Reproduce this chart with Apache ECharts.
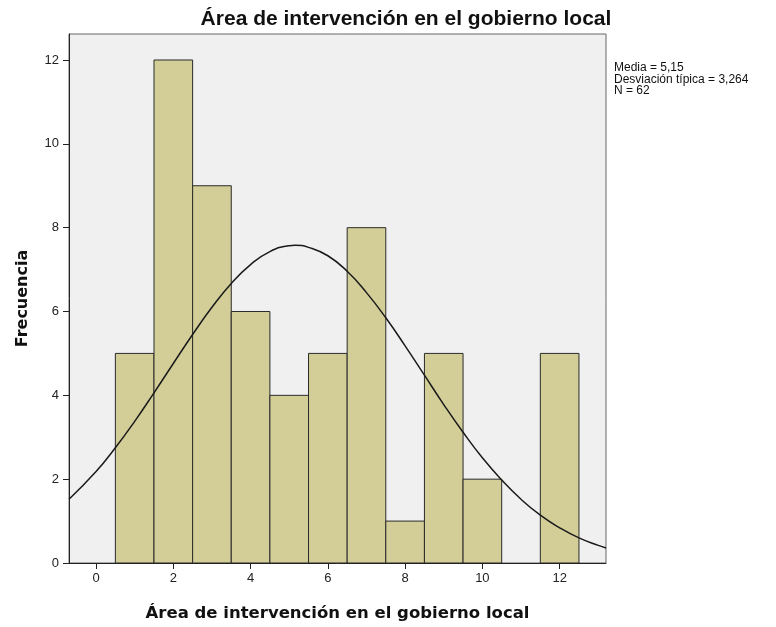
<!DOCTYPE html>
<html>
<head>
<meta charset="utf-8">
<script src="https://cdn.jsdelivr.net/npm/echarts@6/dist/echarts.min.js"></script>
<style>
  html, body { margin: 0; padding: 0; background: #fff; }
  #chart { width: 776px; height: 627px; }
</style>
</head>
<body>
<div id="chart"></div>
<script>
// histogram bins (centre of each bin) and counts
const binCenters = [1, 2, 3, 4, 5, 6, 7, 8, 9, 10, 11, 12];
const counts     = [5, 12, 9, 6, 4, 5, 8, 1, 5, 2, 0, 5];

// normal curve
const curveX = [-0.7, 0, 0.5, 1, 1.5, 2, 2.5, 3, 3.5, 4, 4.5, 5, 5.15, 5.5, 6, 6.5, 7, 7.5, 8, 8.5, 9, 9.5, 10, 10.5, 11, 11.5, 12, 12.5, 13, 13.2];
const curveY = [1.52, 2.18, 2.75, 3.38, 4.06, 4.76, 5.45, 6.10, 6.67, 7.12, 7.43, 7.57, 7.58, 7.53, 7.33, 6.96, 6.45, 5.85, 5.18, 4.48, 3.78, 3.12, 2.51, 1.98, 1.52, 1.14, 0.84, 0.60, 0.42, 0.36];

const xTicks = [0, 2, 4, 6, 8, 10, 12];
const yTicks = [0, 2, 4, 6, 8, 10, 12];

const statsLines = ['Media = 5,15', 'Desviación típica = 3,264', 'N = 62'];
const titleText = 'Área de intervención en el gobierno local';

var chart = echarts.init(document.getElementById('chart'));

const barData = binCenters.map((c, i) => [c, counts[i]]);
const lineData = curveX.map((x, i) => [x, curveY[i]]);

const option = {
  animation: false,
  title: {
    text: titleText,
    left: 401,
    textAlign: 'center',
    top: 4,
    textStyle: { fontFamily: 'Liberation Sans', fontSize: 21, fontWeight: 'bold', color: '#111' }
  },
  grid: {
    left: 69, top: 34, right: 170, bottom: 63,
    show: true,
    backgroundColor: '#f0f0f0',
    borderColor: '#666',
    borderWidth: 1
  },
  xAxis: {
    type: 'value',
    min: -0.7,
    max: 13.2,
    name: titleText,
    nameLocation: 'middle',
    nameGap: 42,
    nameTextStyle: { fontFamily: 'DejaVu Sans', fontSize: 16.5, fontWeight: 'bold', color: '#111' },
    axisLine: { show: true, onZero: false, lineStyle: { color: '#222', width: 1 } },
    axisTick: { show: true, customValues: xTicks, length: 6, lineStyle: { color: '#222' } },
    axisLabel: { customValues: xTicks, fontFamily: 'Liberation Sans', fontSize: 13, color: '#222', margin: 9 },
    splitLine: { show: false }
  },
  yAxis: {
    type: 'value',
    min: 0,
    max: 12.62,
    name: 'Frecuencia',
    nameLocation: 'middle',
    nameGap: 38,
    nameTextStyle: { fontFamily: 'DejaVu Sans', fontSize: 16, fontWeight: 'bold', color: '#111' },
    axisLine: { show: true, onZero: false, lineStyle: { color: '#222', width: 1 } },
    axisTick: { show: true, customValues: yTicks, length: 6, lineStyle: { color: '#222' } },
    axisLabel: { customValues: yTicks, fontFamily: 'Liberation Sans', fontSize: 13, color: '#222', margin: 10 },
    splitLine: { show: false }
  },
  series: [
    {
      type: 'custom',
      data: barData,
      clip: true,
      renderItem: function (params, api) {
        const c = api.value(0), v = api.value(1);
        if (!v) return null;
        const p0 = api.coord([c - 0.5, v]);
        const p1 = api.coord([c + 0.5, 0]);
        return {
          type: 'rect',
          shape: { x: p0[0], y: p0[1], width: p1[0] - p0[0], height: p1[1] - p0[1] },
          style: { fill: '#d3ce97', stroke: '#2a2a2a', lineWidth: 1 }
        };
      }
    },
    {
      type: 'line',
      data: lineData,
      smooth: true,
      showSymbol: false,
      clip: true,
      lineStyle: { color: '#1a1a1a', width: 1.5 },
      z: 5
    }
  ],
  graphic: [
    {
      type: 'text',
      left: 614,
      top: 62,
      style: {
        text: statsLines.join('\n'),
        fontFamily: 'Liberation Sans',
        fontSize: 12,
        lineHeight: 11.5,
        fill: '#111'
      }
    }
  ]
};

chart.setOption(option);
</script>
</body>
</html>
